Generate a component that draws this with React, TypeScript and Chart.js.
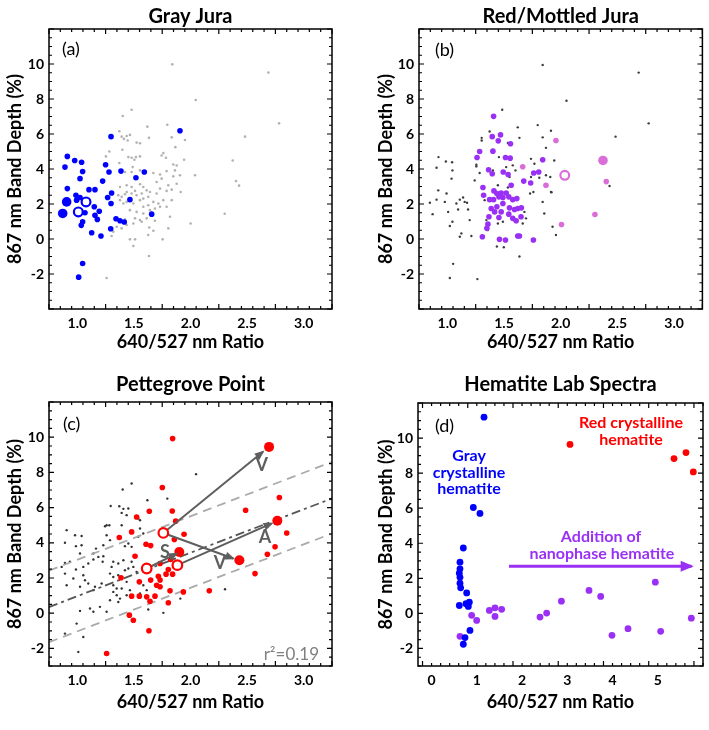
import { useEffect, useRef } from 'react';
import { Chart, registerables } from 'chart.js';
Chart.register(...registerables);

type Pt = [number, number];
const FONT = 'Lato, "Open Sans", sans-serif';

// ---------- Panel (a) Gray Jura ----------
const grayJuraSmall: Pt[] = [
  [1.298, 5.85], [1.907, 6.19], [0.912, 4.72], [0.977, 4.49], [1.038, 4.39], [1.250, 4.24], [0.891, 4.11],
  [1.047, 3.86], [1.386, 3.88], [1.280, 3.83], [1.592, 3.83], [1.518, 3.50], [1.024, 3.45], [1.224, 3.31],
  [0.912, 2.88], [1.103, 2.82], [1.156, 2.82], [1.303, 2.63], [1.268, 2.37], [0.988, 2.50], [1.024, 2.37],
  [0.994, 2.22], [1.465, 2.25], [1.298, 2.03], [1.150, 1.84], [1.194, 1.59], [1.068, 1.50], [1.156, 1.36],
  [1.177, 1.12], [1.657, 1.42], [1.342, 1.16], [1.377, 1.04], [1.415, 0.97], [1.047, 0.99], [1.035, 0.78],
  [1.295, 0.59], [1.127, 0.36], [1.209, 0.17], [1.047, -1.40], [1.012, -2.18],
];
const grayJuraBig: Pt[] = [[0.906, 2.12], [0.871, 1.46]];
const grayJuraOpen: Pt[] = [[1.077, 2.12], [1.009, 1.55]];
const grayJuraOthers: Pt[] = [
  [1.839, 9.98], [2.046, 7.94], [1.480, 7.39], [1.401, 7.03], [1.619, 6.42], [1.795, 6.53], [1.371, 6.16],
  [1.392, 5.85], [1.436, 5.89], [1.465, 5.95], [1.412, 5.72], [1.445, 5.63], [1.834, 5.81], [1.633, 5.78],
  [1.524, 5.51], [1.554, 5.47], [1.951, 5.66], [1.866, 5.25], [1.283, 5.00], [1.253, 4.72], [1.398, 5.10],
  [1.451, 4.68], [1.480, 4.64], [1.518, 4.68], [1.554, 4.72], [1.504, 4.53], [1.745, 4.77], [1.783, 4.64],
  [1.760, 4.91], [1.943, 4.53], [1.848, 4.26], [1.878, 4.20], [1.371, 4.34],
  [1.489, 4.11], [1.421, 3.83], [1.480, 3.83], [1.554, 3.92], [1.672, 3.77], [1.731, 3.69], [1.789, 3.88],
  [1.863, 3.92], [1.907, 3.64], [1.745, 3.45], [1.701, 3.26], [1.848, 3.58], [1.878, 3.16], [1.804, 3.07],
  [2.040, 3.64], [1.377, 2.97], [1.436, 3.07], [1.480, 2.97], [1.554, 3.13], [1.583, 2.97], [1.436, 2.69],
  [1.480, 2.60], [1.510, 2.75], [1.362, 2.50], [1.392, 2.41], [1.421, 2.56], [1.524, 2.50], [1.569, 2.60],
  [1.613, 2.78], [1.642, 2.69], [1.701, 2.60], [1.731, 2.88], [1.789, 2.75], [1.834, 2.82], [1.913, 2.69],
  [1.377, 2.22], [1.407, 2.03], [1.436, 2.12], [1.495, 2.03], [1.554, 2.22], [1.583, 2.31], [1.627, 2.41],
  [1.672, 2.12], [1.716, 2.03], [1.760, 2.22], [1.834, 2.22], [1.583, 1.84], [1.627, 1.93], [1.686, 1.74],
  [1.731, 1.84], [1.789, 1.84], [1.465, 1.65], [1.524, 1.55], [1.583, 1.46], [1.642, 1.65], [1.510, 1.18],
  [1.554, 1.08], [1.613, 1.18], [1.686, 1.04], [1.436, 0.80], [1.495, 0.89], [1.569, 0.99], [1.348, 0.70],
  [1.392, 0.61], [1.318, 0.42], [1.303, 0.17], [1.636, 0.66], [1.672, 0.47], [1.627, 0.23], [1.804, 0.61],
  [2.001, 0.89], [1.465, -0.02], [1.510, -0.02], [1.495, -0.40], [1.754, -0.02], [1.633, -0.97],
  [1.259, -2.23], [1.421, 1.12], [1.819, 1.27],
  [2.688, 9.51], [2.782, 6.61], [2.482, 5.85], [2.373, 4.49], [2.402, 3.31], [2.429, 3.05], [2.302, 1.44],
];

// ---------- Panel (b) Red/Mottled Jura ----------
const redJuraPurple: Pt[] = [
  [1.408, 7.01], [1.396, 5.85], [1.469, 5.95], [1.449, 5.61], [1.557, 5.44], [1.285, 5.00], [1.402, 5.02],
  [1.262, 4.66], [1.513, 4.66], [1.554, 4.62], [1.841, 4.53], [1.364, 3.96], [1.396, 3.73], [1.493, 3.83],
  [1.536, 3.69], [1.762, 3.77], [1.806, 3.83], [1.674, 3.31], [1.735, 3.20], [1.563, 3.07], [1.314, 2.94],
  [1.411, 2.75], [1.437, 2.60], [1.475, 2.63], [1.519, 2.63], [1.320, 2.50], [1.373, 2.25], [1.408, 2.25],
  [1.455, 2.41], [1.490, 2.37], [1.542, 2.41], [1.577, 2.25], [1.613, 2.31], [1.387, 1.74], [1.437, 1.84],
  [1.490, 2.03], [1.548, 1.78], [1.592, 1.69], [1.621, 1.74], [1.653, 1.78], [1.417, 1.55], [1.475, 1.55],
  [1.542, 1.42], [1.367, 1.27], [1.455, 1.23], [1.577, 1.18], [1.607, 1.04], [1.650, 1.27], [1.358, 0.85],
  [1.349, 0.61], [1.309, 0.13], [1.460, -0.02], [1.513, -0.06], [1.621, 0.17], [1.636, 0.17], [1.759, -0.06],
];
const redJuraPink: Pt[] = [[1.665, 4.13], [1.958, 5.63], [1.870, 3.07], [2.402, 3.28], [2.302, 1.40], [2.007, 0.83]];
const redJuraPinkBig: Pt[] = [[2.373, 4.49]];
const redJuraPinkOpen: Pt[] = [[2.036, 3.64]];
const redJuraOthers: Pt[] = [
  [1.841, 9.94], [1.484, 7.39], [1.373, 6.14], [1.303, 5.78], [1.303, 5.63], [1.621, 6.38], [1.636, 5.78],
  [1.797, 6.51], [1.914, 6.19], [1.841, 5.81], [1.870, 5.21], [1.534, 5.49], [0.922, 4.68], [0.987, 4.43],
  [1.042, 4.39], [1.256, 4.24], [1.455, 4.68], [1.738, 4.58], [1.943, 4.49],
  [0.905, 4.07], [0.846, 2.07], [0.870, 1.42], [0.920, 2.78], [0.905, 2.25], [0.993, 2.60], [0.978, 2.12],
  [1.007, 1.55], [1.045, 3.92], [1.037, 3.45], [1.080, 2.03], [1.095, 1.69], [1.110, 2.25], [1.139, 2.37],
  [1.153, 2.12], [1.174, 2.07], [1.183, 1.69], [1.197, 1.08], [1.110, 0.13], [1.124, 0.32], [1.212, 0.17],
  [1.241, 3.35], [1.256, 4.15], [1.285, 3.77], [1.022, 0.74], [1.045, 0.99], [1.051, -1.42], [1.022, -2.23],
  [1.265, -2.29], [1.329, 2.22], [1.344, 1.08], [1.358, 0.51], [1.498, -0.47], [1.437, -0.43], [1.446, 3.07],
  [1.548, 3.54], [1.636, -1.00], [1.665, 0.89], [1.694, 1.18], [1.680, 1.55], [1.730, 2.60], [1.759, 2.69],
  [1.811, 3.50], [1.841, 2.12], [1.855, 1.46], [1.914, 2.69], [1.928, 0.70], [1.958, 0.23], [1.446, 0.89],
  [1.490, 0.99], [1.534, 2.94], [1.577, 4.21], [1.601, 3.92], [1.738, 3.54], [1.768, 4.30], [1.870, 3.64],
  [1.402, 3.92], [1.519, 4.11],
  [2.688, 9.51], [2.051, 7.90], [2.776, 6.61], [2.484, 5.85], [1.908, 3.54], [1.919, 2.67], [2.431, 3.03],
];

// ---------- Panel (c) Pettegrove Point ----------
const pettegroveRed: Pt[] = [
  [1.842, 9.92], [1.751, 7.14], [1.636, 5.79], [1.839, 5.81], [1.524, 5.47], [1.869, 5.23],
  [1.371, 4.30], [1.480, 4.62], [1.943, 4.49], [1.857, 4.19], [1.607, 3.92], [1.648, 3.84], [1.510, 3.24],
  [1.825, 3.05], [1.731, 2.82], [1.804, 2.48], [1.842, 2.22], [1.784, 2.22], [1.716, 2.10], [1.731, 1.88],
  [1.386, 2.01], [1.548, 1.78], [1.648, 1.88], [1.701, 1.59], [1.731, 1.50], [1.819, 1.27], [1.937, 1.21],
  [2.166, 1.27], [1.480, 0.97], [1.548, 0.97], [1.613, 0.93], [1.642, 0.68], [1.686, 0.97], [1.804, 0.59],
  [1.460, -0.11], [1.495, -0.40], [1.633, -1.00], [1.259, -2.29],
  [2.785, 6.57], [2.487, 5.85], [2.850, 4.56], [2.747, 3.77], [2.679, 3.35], [2.570, 2.25],
];
const pettegroveBig: Pt[] = [[1.901, 3.48], [2.694, 9.45], [2.767, 5.25], [2.432, 3.01]];
const pettegroveOpen: Pt[] = [[1.760, 4.56], [1.884, 2.73], [1.613, 2.54]];
const pettegroveOthers: Pt[] = [
  [2.049, 7.90], [1.480, 7.37], [1.401, 7.03], [1.619, 6.42], [1.795, 6.51], [1.371, 6.08], [1.407, 5.93],
  [1.451, 5.95], [1.392, 5.70], [1.436, 5.57], [1.295, 6.09], [1.259, 5.00], [1.539, 5.38], [1.554, 5.28],
  [1.245, 4.94], [1.283, 5.00], [1.392, 5.00], [1.554, 4.81], [1.583, 4.53], [1.539, 4.34], [0.906, 4.72],
  [0.980, 4.43], [1.038, 4.39], [0.891, 4.00], [0.988, 3.81], [1.038, 3.86], [1.165, 3.67], [1.230, 3.86],
  [1.289, 4.15], [1.259, 4.43], [1.451, 3.96], [1.480, 3.77], [1.421, 3.81], [1.024, 3.39], [1.142, 3.39],
  [0.891, 2.86], [0.935, 2.92], [0.862, 2.63], [0.988, 2.48], [1.053, 2.63], [1.097, 2.82], [1.142, 3.05],
  [1.186, 3.20], [1.230, 3.24], [1.224, 2.92], [1.318, 2.92], [1.303, 2.63], [1.362, 2.82], [1.407, 3.01],
  [1.421, 2.44], [1.451, 2.54], [1.495, 2.63], [1.524, 2.35], [1.480, 2.92], [0.891, 2.25], [1.053, 2.16],
  [0.965, 1.97], [1.068, 1.87], [1.097, 1.69], [1.156, 1.50], [1.215, 1.69], [1.024, 1.50], [0.906, 1.59],
  [1.142, 1.31], [1.289, 2.25], [1.318, 2.06], [1.362, 2.16], [1.318, 1.59], [1.348, 1.40], [1.392, 1.40],
  [1.436, 1.78], [1.465, 1.31], [1.583, 1.59], [1.613, 1.31], [1.318, 1.21], [1.348, 1.02], [1.377, 0.83],
  [1.436, 1.02], [1.362, 0.64], [1.289, 0.74], [1.554, 1.12], [1.112, 0.27], [1.200, 0.36], [1.142, 0.08],
  [1.024, 0.13], [1.259, 0.08], [0.994, -0.59], [0.891, -1.16], [1.053, -1.35], [1.627, 0.21], [1.760, 0.02],
  [1.910, 0.83], [1.009, -2.20], [2.305, 1.36],
];
const trendLine: Pt[] = [[0.75, 0.35], [3.25, 6.52]];
const trendUpper: Pt[] = [[0.75, 2.42], [3.25, 8.60]];
const trendLower: Pt[] = [[0.75, -1.65], [3.25, 4.53]];
const arrowV1: Pt[] = [[1.760, 4.56], [2.640, 9.17]];
const arrowV2: Pt[] = [[1.760, 4.56], [2.378, 3.11]];
const arrowS: Pt[] = [[1.613, 2.54], [1.878, 3.39]];
const arrowA: Pt[] = [[1.884, 2.73], [2.717, 5.10]];

// ---------- Panel (d) Hematite Lab Spectra ----------
const labGray: Pt[] = [
  [1.159, 11.19], [0.923, 6.04], [1.070, 5.70], [0.702, 3.73], [0.628, 2.92], [0.628, 2.54], [0.613, 2.29],
  [0.628, 2.06], [0.628, 1.72], [0.643, 1.46], [0.776, 1.17], [0.613, 0.45], [0.761, 0.55], [0.835, 0.64],
  [0.812, 0.40], [0.849, -0.97], [0.739, -1.38], [0.702, -1.76],
];
const labNano: Pt[] = [
  [0.628, -1.31], [0.886, -0.11], [0.997, -0.40], [1.277, 0.17], [1.402, 0.32], [1.549, 0.23], [1.402, -0.17],
  [2.397, -0.21], [2.544, 0.02], [2.870, 0.70], [3.480, 1.31], [3.738, 0.97], [3.988, -1.25], [4.342, -0.87],
  [4.946, 1.78], [5.064, -1.02], [5.742, -0.27],
];
const labRed: Pt[] = [[3.060, 9.64], [5.359, 8.83], [5.624, 9.17], [5.786, 8.07]];
const nanoArrow: Pt[] = [[1.711, 2.69], [5.75, 2.69]];

const ratioTicks = [1.0, 1.5, 2.0, 2.5, 3.0];
const labRatioTicks = [0, 1, 2, 3, 4, 5];
const depthTicks = [-2, 0, 2, 4, 6, 8, 10];

// ---------- helpers ----------
const pts = (arr: Pt[]) => arr.map(([x, y]) => ({ x, y }));
const dots = (arr: Pt[], color: string, r: number, order: number) => ({
  data: pts(arr), pointRadius: r, pointHoverRadius: r, backgroundColor: color, borderColor: color,
  borderWidth: 0, pointBorderWidth: 0, order,
});
const rings = (arr: Pt[], color: string, r: number, order: number) => ({
  data: pts(arr), pointRadius: r, pointHoverRadius: r, backgroundColor: '#ffffff', borderColor: color,
  pointBorderWidth: 2.2, borderWidth: 2.2, order,
});
const seg = (arr: Pt[], color: string, w: number, dash: number[], order: number, arrow = false) => ({
  data: pts(arr), showLine: true, borderColor: color, backgroundColor: color, borderWidth: w, borderDash: dash,
  pointRadius: 0, pointHoverRadius: 0, order, arrow,
});

const PURPLE = '#9a30f5';
const PINK = '#da6ed8';
const ARROW = '#5e5e5e';

type Txt = { t: string; x: number; y: number; color: string; font: string; align?: CanvasTextAlign; val?: boolean };

interface Panel {
  canvas: [number, number, number, number];
  area: [number, number, number, number];
  x: [number, number]; y: [number, number];
  xTicks: number[]; xDec: number;
  xMinor: [number, number, number];
  yMinor: [number, number];
  title: string; titleY: number; letter: string; letterPos: [number, number];
  xTitlePad: number; yTitlePad: number;
  datasets: any[];
  texts: Txt[];
}

const PANELS: Panel[] = [
  {
    canvas: [0, 0, 354, 365], area: [49, 29, 332, 309], x: [0.75, 3.25], y: [-4, 12],
    xTicks: ratioTicks, xDec: 1, xMinor: [0.75, 0.1, 5], yMinor: [-4, 0.5],
    title: 'Gray Jura', titleY: 22.5, letter: '(a)', letterPos: [13, 20],
    xTitlePad: 12, yTitlePad: 4,
    datasets: [
      dots(grayJuraOthers, '#b2b2b2', 1.3, 10),
      dots(grayJuraSmall, '#0000ff', 2.8, 5),
      dots(grayJuraBig, '#0000ff', 4.8, 4),
      rings(grayJuraOpen, '#0000ff', 4.4, 3),
    ],
    texts: [],
  },
  {
    canvas: [354, 0, 355, 365], area: [419, 29, 704, 309], x: [0.75, 3.25], y: [-4, 12],
    xTicks: ratioTicks, xDec: 1, xMinor: [0.75, 0.1, 5], yMinor: [-4, 0.5],
    title: 'Red/Mottled Jura', titleY: 22.5, letter: '(b)', letterPos: [16, 21],
    xTitlePad: 12, yTitlePad: 21,
    datasets: [
      dots(redJuraOthers, '#3c3c3c', 1.2, 10),
      dots(redJuraPurple, PURPLE, 2.8, 5),
      dots(redJuraPink, PINK, 2.8, 5),
      dots(redJuraPinkBig, PINK, 4.8, 4),
      rings(redJuraPinkOpen, PINK, 4.4, 3),
    ],
    texts: [],
  },
  {
    canvas: [0, 365, 354, 365], area: [49, 402, 332, 666], x: [0.75, 3.25], y: [-3, 12],
    xTicks: ratioTicks, xDec: 1, xMinor: [0.75, 0.1, 5], yMinor: [-3, 0.5],
    title: 'Pettegrove Point', titleY: 391, letter: '(c)', letterPos: [14, 22],
    xTitlePad: 17, yTitlePad: 4,
    datasets: [
      dots(pettegroveOthers, '#333333', 1.2, 10),
      seg(trendUpper, '#aaaaaa', 1.8, [9, 6], 8),
      seg(trendLower, '#aaaaaa', 1.8, [9, 6], 8),
      seg(trendLine, '#555555', 1.8, [9, 4, 3, 4], 8),
      dots(pettegroveRed, '#ff0000', 2.8, 5),
      dots(pettegroveBig, '#ff0000', 5, 4),
      seg(arrowV1, ARROW, 2, [], 3.5, true),
      seg(arrowV2, ARROW, 2, [], 3.5, true),
      seg(arrowS, ARROW, 2, [], 3.5, true),
      seg(arrowA, ARROW, 2, [], 3.5, true),
      rings(pettegroveOpen, '#ff0000', 4.8, 3),
    ],
    texts: [
      { t: 'S', x: 1.775, y: 3.48, color: ARROW, font: `bold 18px ${FONT}`, val: true },
      { t: 'V', x: 2.629, y: 8.41, color: ARROW, font: `bold 18px ${FONT}`, val: true },
      { t: 'V', x: 2.261, y: 2.82, color: ARROW, font: `bold 18px ${FONT}`, val: true },
      { t: 'A', x: 2.658, y: 4.34, color: ARROW, font: `bold 18px ${FONT}`, val: true },
      { t: 'r²=0.19', x: 319, y: 655, color: '#808080', font: `17px ${FONT}`, align: 'right' },
    ],
  },
  {
    canvas: [354, 365, 355, 365], area: [418, 403, 703, 666], x: [-0.3, 6.0], y: [-3, 12],
    xTicks: labRatioTicks, xDec: 0, xMinor: [-0.2, 0.2, 5], yMinor: [-3, 0.5],
    title: 'Hematite Lab Spectra', titleY: 391, letter: '(d)', letterPos: [17, 23],
    xTitlePad: 17, yTitlePad: 21,
    datasets: [
      seg(nanoArrow, PURPLE, 3, [], 8, true),
      dots(labGray, '#0000ff', 3.4, 5),
      dots(labNano, PURPLE, 3.4, 5),
      dots(labRed, '#ff0000', 3.4, 5),
    ],
    texts: [
      { t: 'Gray', x: 469, y: 456, color: '#0000ff', font: `bold 16px ${FONT}` },
      { t: 'crystalline', x: 469, y: 472.7, color: '#0000ff', font: `bold 16px ${FONT}` },
      { t: 'hematite', x: 469, y: 489.3, color: '#0000ff', font: `bold 16px ${FONT}` },
      { t: 'Red crystalline', x: 631, y: 422.7, color: '#ff0000', font: `bold 16px ${FONT}` },
      { t: 'hematite', x: 631, y: 440, color: '#ff0000', font: `bold 16px ${FONT}` },
      { t: 'Addition of', x: 601, y: 536.7, color: PURPLE, font: `bold 16px ${FONT}` },
      { t: 'nanophase hematite', x: 602, y: 554.3, color: PURPLE, font: `bold 16px ${FONT}` },
    ],
  },
];

function makeChart(canvas: HTMLCanvasElement, p: Panel) {
  const [cl, ct, cw, ch] = p.canvas;
  const [L, T, R, B] = p.area;
  const decor = {
    id: 'decor',
    afterDraw(chart: any) {
      const ctx = chart.ctx as CanvasRenderingContext2D;
      const xs = chart.scales.x, ys = chart.scales.y;
      const a = chart.chartArea;
      ctx.save();
      chart.data.datasets.forEach((ds: any, i: number) => {
        if (!ds.arrow) return;
        const meta = chart.getDatasetMeta(i);
        const n = meta.data.length;
        const p1 = meta.data[n - 2], p2 = meta.data[n - 1];
        const ang = Math.atan2(p2.y - p1.y, p2.x - p1.x);
        const len = ds.borderWidth > 2.5 ? 13 : 10;
        const wid = ds.borderWidth > 2.5 ? 11 : 8;
        const tx = p2.x + Math.cos(ang) * 2, ty = p2.y + Math.sin(ang) * 2;
        const bx = tx - Math.cos(ang) * len, by = ty - Math.sin(ang) * len;
        ctx.fillStyle = ds.borderColor;
        ctx.beginPath();
        ctx.moveTo(tx, ty);
        ctx.lineTo(bx + Math.sin(ang) * wid / 2, by - Math.cos(ang) * wid / 2);
        ctx.lineTo(bx - Math.sin(ang) * wid / 2, by + Math.cos(ang) * wid / 2);
        ctx.closePath();
        ctx.fill();
      });
      ctx.strokeStyle = '#000';
      ctx.lineWidth = 1.5;
      ctx.strokeRect(a.left, a.top, a.right - a.left, a.bottom - a.top);
      ctx.lineWidth = 1.2;
      ctx.beginPath();
      const [xf, xstep, xmaj] = p.xMinor;
      for (let k = 0; ; k++) {
        const v = xf + k * xstep;
        if (v > p.x[1] + 1e-6) break;
        if (v < p.x[0] - 1e-6) continue;
        const px = xs.getPixelForValue(v);
        const l = k % xmaj === 0 ? 5 : 3;
        ctx.moveTo(px, a.bottom); ctx.lineTo(px, a.bottom - l);
        ctx.moveTo(px, a.top); ctx.lineTo(px, a.top + l);
      }
      const [yf, ystep] = p.yMinor;
      for (let k = 0; ; k++) {
        const v = yf + k * ystep;
        if (v > p.y[1] + 1e-6) break;
        const py = ys.getPixelForValue(v);
        const major = Math.abs(v / 2 - Math.round(v / 2)) < 1e-6;
        const l = major ? 5 : 3;
        ctx.moveTo(a.left, py); ctx.lineTo(a.left + l, py);
        ctx.moveTo(a.right, py); ctx.lineTo(a.right - l, py);
      }
      ctx.stroke();
      ctx.fillStyle = '#000';
      ctx.font = `bold 20px ${FONT}`;
      ctx.textAlign = 'center';
      ctx.textBaseline = 'alphabetic';
      ctx.fillText(p.title, (a.left + a.right) / 2, p.titleY - ct);
      ctx.font = `18px ${FONT}`;
      ctx.textAlign = 'left';
      ctx.textBaseline = 'middle';
      ctx.fillText(p.letter, a.left + p.letterPos[0], a.top + p.letterPos[1]);
      p.texts.forEach((t) => {
        ctx.font = t.font;
        ctx.fillStyle = t.color;
        ctx.textAlign = t.align || 'center';
        ctx.textBaseline = 'middle';
        const x = t.val ? xs.getPixelForValue(t.x) : t.x - cl;
        const y = t.val ? ys.getPixelForValue(t.y) : t.y - ct;
        ctx.fillText(t.t, x, y);
      });
      ctx.restore();
    },
  };
  const tickFont = { family: FONT, size: 14, weight: 'bold' as const };
  const titleFont = { family: FONT, size: 18, weight: 'bold' as const };
  return new Chart(canvas, {
    type: 'scatter',
    data: { datasets: p.datasets },
    options: {
      responsive: false,
      animation: false,
      devicePixelRatio: 1,
      layout: { padding: { left: 0, top: T - ct, right: cl + cw - R, bottom: 0 } },
      plugins: { legend: { display: false }, tooltip: { enabled: false }, title: { display: false } },
      events: [],
      scales: {
        x: {
          type: 'linear', position: 'bottom', min: p.x[0], max: p.x[1],
          afterBuildTicks: (s: any) => { s.ticks = p.xTicks.map((v) => ({ value: v })); },
          afterFit: (s: any) => { s.height = ct + ch - B; },
          grid: { display: false, drawTicks: false }, border: { display: false },
          ticks: {
            color: '#000', font: tickFont, padding: 6, maxRotation: 0, autoSkip: false,
            callback: (v: any) => Number(v).toFixed(p.xDec),
          },
          title: { display: true, text: '640/527 nm Ratio', color: '#000', font: titleFont, padding: { top: 0, bottom: p.xTitlePad } },
        },
        y: {
          type: 'linear', position: 'left', min: p.y[0], max: p.y[1],
          afterBuildTicks: (s: any) => { s.ticks = depthTicks.map((v) => ({ value: v })); },
          afterFit: (s: any) => { s.width = L - cl; },
          grid: { display: false, drawTicks: false }, border: { display: false },
          ticks: { color: '#000', font: tickFont, padding: 5, autoSkip: false, callback: (v: any) => String(v) },
          title: { display: true, text: '867 nm Band Depth (%)', color: '#000', font: titleFont, padding: { top: p.yTitlePad, bottom: 0 } },
        },
      },
    } as any,
    plugins: [decor],
  });
}

export default function App() {
  const r0 = useRef<HTMLCanvasElement>(null);
  const r1 = useRef<HTMLCanvasElement>(null);
  const r2 = useRef<HTMLCanvasElement>(null);
  const r3 = useRef<HTMLCanvasElement>(null);
  const refs = [r0, r1, r2, r3];
  useEffect(() => {
    const charts = PANELS.map((p, i) => makeChart(refs[i].current as HTMLCanvasElement, p));
    return () => charts.forEach((c) => c.destroy());
  }, []);
  return (
    <div style={{ position: 'fixed', left: 0, top: 0, width: 709, height: 730, background: '#ffffff' }}>
      {PANELS.map((p, i) => (
        <canvas
          key={i}
          ref={refs[i]}
          width={p.canvas[2]}
          height={p.canvas[3]}
          style={{ position: 'absolute', left: p.canvas[0], top: p.canvas[1], width: p.canvas[2], height: p.canvas[3] }}
        />
      ))}
    </div>
  );
}
